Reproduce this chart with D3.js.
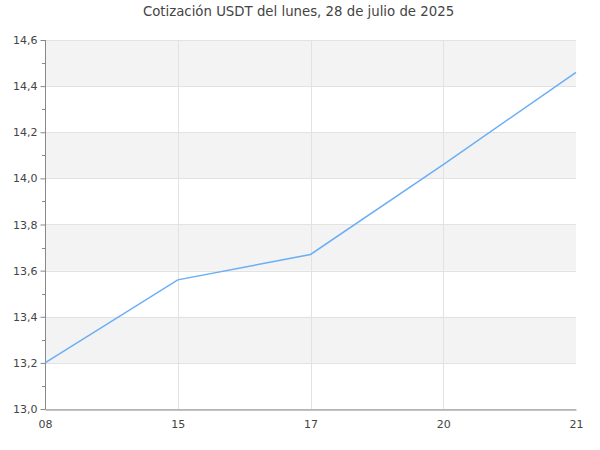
<!DOCTYPE html>
<html><head><meta charset="utf-8">
<script src="https://cdn.jsdelivr.net/npm/d3@7"></script>
<style>body{margin:0;background:#fff;} text{font-family:"DejaVu Sans",sans-serif;}</style>
</head><body>
<svg id="c" width="600" height="450"></svg>
<script>
const categories = ["08","15","17","20","21"];
const values = [13.2, 13.56, 13.67, 14.06, 14.46];
const yTicks = [13.0,13.2,13.4,13.6,13.8,14.0,14.2,14.4,14.6];
const title = "Cotización USDT del lunes, 28 de julio de 2025";

const svg = d3.select("#c");
const m = {l:45, r:24, t:40, b:41};
const W = 600, H = 450;
const x = d3.scalePoint().domain(categories).range([m.l, W-m.r]);
const y = d3.scaleLinear().domain([13.0,14.6]).range([H-m.b, m.t]);
const fmt = v => d3.format(".1f")(v).replace(".", ",");

// bands
const bands = [];
for (let i=0;i<yTicks.length-1;i++) if (i%2===1) bands.push([yTicks[i], yTicks[i+1]]);
svg.append("g").selectAll("rect").data(bands).join("rect")
  .attr("x", m.l).attr("width", W-m.r-m.l)
  .attr("y", d=>y(d[1])).attr("height", d=>y(d[0])-y(d[1]))
  .attr("fill","#f3f3f3");

// horizontal grid
svg.append("g").selectAll("line").data(yTicks).join("line")
  .attr("x1", m.l).attr("x2", W-m.r)
  .attr("y1", d=>Math.round(y(d))+0.5).attr("y2", d=>Math.round(y(d))+0.5)
  .attr("stroke","#e2e2e2");
// vertical grid (interior categories)
svg.append("g").selectAll("line").data(categories.slice(1, -1)).join("line")
  .attr("x1", d=>Math.round(x(d))+0.5).attr("x2", d=>Math.round(x(d))+0.5)
  .attr("y1", m.t).attr("y2", H-m.b)
  .attr("stroke","#e2e2e2");

// y axis
const ya = svg.append("g").attr("transform",`translate(${m.l+0.5},0)`)
  .call(d3.axisLeft(y).tickValues(yTicks).tickFormat(fmt).tickSize(5).tickPadding(3));
ya.select(".domain").attr("stroke","#888").attr("d", `M0,${y(14.6)}V${y(13.0)}`);
ya.selectAll(".tick line").attr("stroke","#888");
ya.selectAll(".tick text").attr("fill","#444").style("font-size","11px").style("font-family","DejaVu Sans");
// minor ticks
const minor = d3.range(13.1, 14.6, 0.2);
svg.append("g").selectAll("line").data(minor).join("line")
  .attr("x1", m.l-3).attr("x2", m.l)
  .attr("y1", d=>Math.round(y(d))+0.5).attr("y2", d=>Math.round(y(d))+0.5)
  .attr("stroke","#888");

// x axis
const xa = svg.append("g").attr("transform",`translate(0,${Math.round(H-m.b)+0.5})`)
  .call(d3.axisBottom(x).tickSize(0).tickPadding(11));
xa.select(".domain").attr("stroke","#888");
xa.selectAll(".tick text").attr("fill","#444").style("font-size","11px").style("font-family","DejaVu Sans");

// line
svg.append("path").datum(values)
  .attr("fill","none").attr("stroke","#6aaef5").attr("stroke-width",1.5)
  .attr("d", d3.line().x((d,i)=>x(categories[i])).y(d=>y(d)));

// title
svg.append("text").attr("x", 298.5).attr("y", 15.5).attr("text-anchor","middle")
  .attr("fill","#444").style("font-size","13.3px").text(title);
</script>
</body></html>
